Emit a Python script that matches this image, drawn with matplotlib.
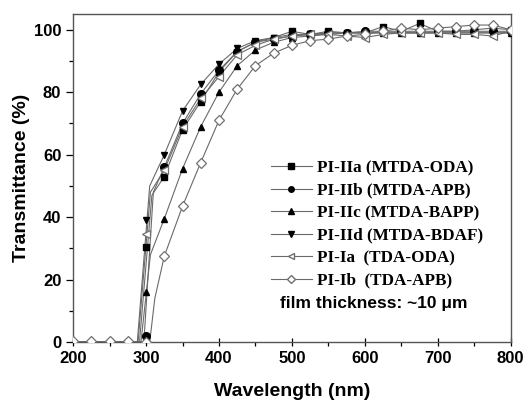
import numpy as np
import matplotlib
matplotlib.use("Agg")
import matplotlib.pyplot as plt
from matplotlib.ticker import MultipleLocator
from matplotlib.lines import Line2D

# longueurs d'onde des points (tous les 25 nm)
wavelength = [200, 225, 250, 275, 300, 325, 350, 375, 400, 425, 450, 475, 500,
              525, 550, 575, 600, 625, 650, 675, 700, 725, 750, 775, 800]
nan = np.nan

# transmittance (%)
pi_iia = [nan, nan, nan, nan, 30.5, 53, 68, 77, 86.5, 93, 96, 97.5, 99.5,
          98.5, 99.5, 99, 99, 101, 99.5, 102, 99.5, 99.5, 100, 100.5, 100]
pi_iib = [nan, nan, nan, nan, 2, 56, 70, 79.5, 87, 93, 96, 97, 98,
          98.5, 99, 99, 99.5, 99.5, 99.5, 99.5, 99.5, 99.5, 99.5, 99.5, 99.5]
pi_iic = [nan, nan, nan, nan, 16, 39.5, 55.5, 69, 80, 88.5, 93.5, 96, 97.5,
          98, 98.5, 99, 99, 99, 99, 99, 99, 99, 99, 99, 99]
pi_iid = [nan, nan, nan, nan, 39, 60, 74, 82.5, 89, 94, 96.5, 97.5, 98.5,
          98.5, 99, 99, 99, 99, 99, 99, 99, 99, 99, 99, 99]
pi_ia = [nan, nan, nan, nan, 34.5, 55, 69, 78, 85, 92, 95, 97, 98,
         98.5, 98.5, 98, 97.5, 98.5, 99, 99, 99, 98.5, 98.5, 98, 99.5]
pi_ib = [0.5, 0.5, 0.5, 0.5, 0, 27.5, 43.5, 57.5, 71, 81, 88.5, 92.5, 95,
         96.5, 97, 98, 98.5, 99.5, 100.5, 100, 100.5, 101, 101.5, 101.5, 100]

# debut de l'absorption (T = 0) et coude de chaque courbe
onset = [291, 297, 293, 288, 289, 305]
knee_wl = [308, 310, 306, 305, 306, 312]
knee_val = [47, 48, 28, 50, 48, 14]

labels = ["PI-IIa (MTDA-ODA)", "PI-IIb (MTDA-APB)", "PI-IIc (MTDA-BAPP)",
          "PI-IId (MTDA-BDAF)", "PI-Ia  (TDA-ODA)", "PI-Ib  (TDA-APB)"]
markers = ["s", "o", "^", "v", "<", "D"]
filled = [True, True, True, True, False, False]

series = [pi_iia, pi_iib, pi_iic, pi_iid, pi_ia, pi_ib]

fig = plt.figure(figsize=(5.26, 4.03), dpi=100)
ax = fig.add_axes([0.139, 0.151, 0.832, 0.814])

line_col = "#6a6a6a"
for i, ys in enumerate(series):
    wl = np.array(wavelength, dtype=float)
    y = np.array(ys, dtype=float)
    # points de la ligne : 0 avant le seuil, seuil, coude, puis les points
    rest = [(w, v) for w, v in zip(wl, y) if w > knee_wl[i] and not np.isnan(v)]
    lx = [200, onset[i], knee_wl[i]] + [w for w, v in rest]
    ly = [0, 0, knee_val[i]] + [v for w, v in rest]
    ax.plot(lx, ly, color=line_col, lw=0.8, zorder=2)
    if filled[i]:
        ax.plot(wl, y, ls="none", marker=markers[i], ms=5 if markers[i] != "o" else 5.5,
                mfc="black", mec="black", zorder=3)
    else:
        ax.plot(wl, y, ls="none", marker=markers[i], ms=5.5 if markers[i] == "<" else 5,
                mfc="white", mec="#707070", mew=0.9, zorder=3)

# legende (poignees faites a la main)
handles = []
for i in range(6):
    if filled[i]:
        h = Line2D([], [], color=line_col, lw=0.8, marker=markers[i], ms=4,
                   mfc="black", mec="black")
    else:
        h = Line2D([], [], color=line_col, lw=0.8, marker=markers[i], ms=4.5,
                   mfc="white", mec="#707070")
    handles.append(h)
leg = ax.legend(handles, labels, loc="upper left", bbox_to_anchor=(0.436, 0.575),
                frameon=False, handlelength=2.4, handletextpad=0.3,
                labelspacing=0.38, borderaxespad=0,
                prop={"family": "Liberation Serif", "weight": "bold", "size": 12.3})
ax.text(0.473, 0.119, "film thickness: ~10 μm", transform=ax.transAxes,
        fontsize=12.5, fontweight="bold", family="Liberation Sans", ha="left", va="center")

ax.set_xlim(200, 800)
ax.set_ylim(0, 105)
ax.xaxis.set_major_locator(MultipleLocator(100))
ax.xaxis.set_minor_locator(MultipleLocator(50))
ax.yaxis.set_major_locator(MultipleLocator(20))
ax.yaxis.set_minor_locator(MultipleLocator(10))
ax.tick_params(axis="x", which="major", direction="inout", length=6, width=0.9)
ax.tick_params(axis="x", which="minor", direction="out", length=3, width=0.9)
ax.tick_params(axis="y", which="major", direction="out", length=5, width=0.9)
ax.tick_params(axis="y", which="minor", direction="out", length=3, width=0.9)
for lab in ax.get_xticklabels() + ax.get_yticklabels():
    lab.set_fontweight("bold")
    lab.set_fontsize(12)
    lab.set_family("Liberation Sans")
for sp in ax.spines.values():
    sp.set_color("#555555")
    sp.set_linewidth(1.0)

ax.set_xlabel("Wavelength (nm)", fontsize=14, fontweight="bold", family="Liberation Sans",
              labelpad=12)
ax.set_ylabel("Transmittance (%)", fontsize=14, fontweight="bold", family="Liberation Sans",
              labelpad=3)

fig.savefig("out.png", dpi=100)
